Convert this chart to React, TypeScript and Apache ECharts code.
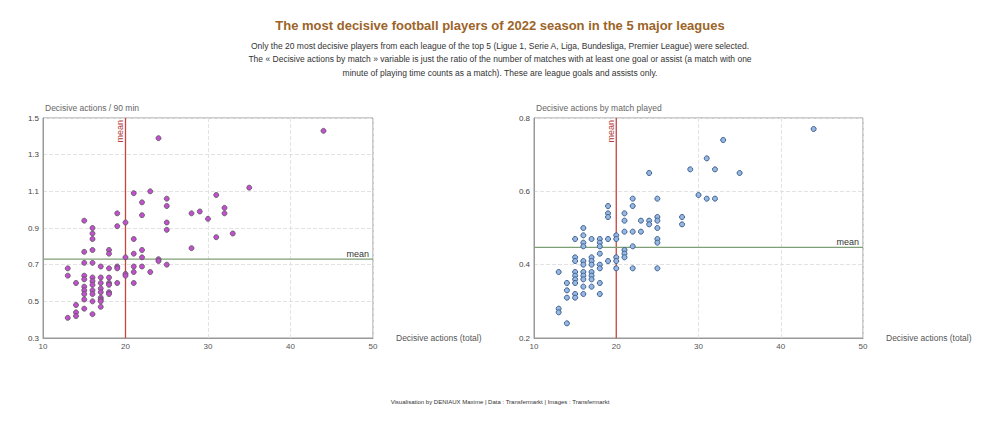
import React, { useEffect, useRef } from "react";
import * as echarts from "echarts";

// Left chart: decisive actions (total) vs decisive actions / 90 min
const leftTotals = [
  44, 24, 35, 21, 23, 31, 22, 25, 25, 19, 28, 29, 32, 32, 30, 22, 15, 20, 19, 25,
  25, 16, 16, 16, 21, 31, 33, 28, 15, 16, 18, 18, 21, 22, 20, 22, 24, 24, 15, 16,
  25, 13, 17, 18, 19, 19, 21, 22, 20, 20, 21, 23, 13, 15, 15, 16, 16, 16, 17, 18,
  14, 17, 18, 18, 19, 21, 15, 15, 15, 16, 16, 17, 17, 18, 18, 15, 16, 17, 17, 17,
  17, 14, 15, 14, 14, 16, 13,
];
const leftPer90 = [
  1.43, 1.39, 1.12, 1.09, 1.1, 1.08, 1.04, 1.06, 1.02, 0.98, 0.98, 0.99, 1.01, 0.98, 0.95, 0.97, 0.94, 0.93, 0.91, 0.93,
  0.89, 0.9, 0.87, 0.84, 0.84, 0.85, 0.87, 0.79, 0.77, 0.78, 0.78, 0.76, 0.76, 0.78, 0.74, 0.74, 0.73, 0.72, 0.71, 0.71,
  0.7, 0.68, 0.69, 0.68, 0.69, 0.68, 0.69, 0.69, 0.65, 0.64, 0.66, 0.66, 0.64, 0.64, 0.62, 0.63, 0.61, 0.59, 0.63, 0.63,
  0.6, 0.6, 0.6, 0.59, 0.6, 0.6, 0.58, 0.56, 0.54, 0.56, 0.54, 0.57, 0.55, 0.55, 0.54, 0.51, 0.5, 0.52, 0.51, 0.5,
  0.47, 0.48, 0.46, 0.44, 0.42, 0.43, 0.41,
];

// Right chart: decisive actions (total) vs decisive actions by match played
const rightTotals = [
  44, 33, 31, 24, 29, 32, 35, 30, 31, 32, 22, 25, 22, 19, 19, 19, 21, 21, 23, 24,
  24, 25, 25, 25, 28, 28, 16, 16, 21, 22, 23, 20, 20, 15, 17, 18, 18, 18, 19, 16,
  16, 25, 25, 22, 21, 21, 21, 18, 15, 15, 16, 16, 17, 17, 17, 18, 18, 19, 20, 20,
  20, 22, 25, 13, 15, 15, 15, 15, 16, 16, 16, 17, 17, 17, 14, 18, 16, 17, 14, 15,
  15, 16, 18, 14, 13, 13, 14,
];
const rightPerMatch = [
  0.77, 0.74, 0.69, 0.65, 0.66, 0.66, 0.65, 0.59, 0.58, 0.58, 0.58, 0.58, 0.56, 0.56, 0.54, 0.53, 0.54, 0.52, 0.52, 0.52,
  0.51, 0.53, 0.52, 0.5, 0.53, 0.51, 0.5, 0.48, 0.49, 0.49, 0.49, 0.48, 0.47, 0.47, 0.47, 0.47, 0.46, 0.45, 0.47, 0.46,
  0.45, 0.47, 0.46, 0.45, 0.44, 0.43, 0.42, 0.43, 0.42, 0.41, 0.41, 0.4, 0.42, 0.41, 0.4, 0.4, 0.39, 0.41, 0.42, 0.41,
  0.39, 0.39, 0.39, 0.38, 0.38, 0.37, 0.36, 0.35, 0.38, 0.37, 0.36, 0.38, 0.37, 0.36, 0.35, 0.35, 0.34, 0.34, 0.33, 0.32,
  0.31, 0.32, 0.32, 0.31, 0.28, 0.27, 0.24,
];

const meanTotal = 20;
const meanPer90 = 0.73;
const meanPerMatch = 0.447;

const xRange = [10, 50];
const leftYRange = [0.3, 1.5];
const rightYRange = [0.2, 0.8];

const titleText = "The most decisive football players of 2022 season in the 5 major leagues";
const subtitleLines = [
  "Only the 20 most decisive players from each league of the top 5 (Ligue 1, Serie A, Liga, Bundesliga, Premier League) were selected.",
  "The « Decisive actions by match » variable is just the ratio of the number of matches with at least one goal or assist (a match with one",
  "minute of playing time counts as a match). These are league goals and assists only.",
];
const footerText = "Visualisation by DENIAUX Maxime | Data : Transfermarkt | Images : Transfermarkt";

const FONT = "Liberation Sans, Arial, sans-serif";

function meanLineSeries(idx: number, meanY: number, yRange: number[]) {
  return {
    type: "custom",
    xAxisIndex: idx,
    yAxisIndex: idx,
    clip: false,
    silent: true,
    z: 2,
    data: [[meanTotal, meanY]],
    renderItem: (_params: any, api: any) => {
      const mx = api.value(0);
      const my = api.value(1);
      const top = api.coord([mx, yRange[1]]);
      const bottom = api.coord([mx, yRange[0]]);
      const left = api.coord([xRange[0], my]);
      const right = api.coord([xRange[1], my]);
      return {
        type: "group",
        children: [
          {
            type: "line",
            shape: { x1: top[0], y1: top[1], x2: bottom[0], y2: bottom[1] },
            style: { stroke: "#c8453f", lineWidth: 1.3 },
          },
          {
            type: "line",
            shape: { x1: left[0], y1: left[1], x2: right[0], y2: right[1] },
            style: { stroke: "#7e9f76", lineWidth: 1.3 },
          },
          {
            type: "text",
            x: top[0] - 1,
            y: top[1] + 2,
            rotation: Math.PI / 2,
            style: {
              text: "mean",
              fill: "#b03a3a",
              font: `9px ${FONT}`,
              align: "right",
              verticalAlign: "bottom",
            },
          },
          {
            type: "text",
            x: right[0] - 4,
            y: right[1] - 1,
            style: {
              text: "mean",
              fill: "#333",
              font: `9px ${FONT}`,
              align: "right",
              verticalAlign: "bottom",
            },
          },
        ],
      };
    },
  };
}

export default function App() {
  const ref = useRef<HTMLDivElement>(null);

  useEffect(() => {
    document.body.style.margin = "0";
    if (!ref.current) return;
    const chart = echarts.init(ref.current, null, { renderer: "svg" });

    const axisLine = () => ({ show: true, lineStyle: { color: "#999", width: 1 } });
    const splitDash = () => ({ show: true, lineStyle: { color: "#e2e2e2", type: "dashed", width: 1 } });
    const xAxisBase = (gridIndex: number) => ({
      type: "value",
      gridIndex,
      min: xRange[0],
      max: xRange[1],
      interval: 10,
      name: "Decisive actions (total)",
      nameLocation: "end",
      nameGap: 23,
      nameTextStyle: { color: "#555", fontSize: 8.5, fontFamily: FONT, verticalAlign: "middle", padding: [0, 0, 4, 0] },
      axisLine: axisLine(),
      axisTick: { show: false },
      axisLabel: { color: "#555", fontSize: 8, fontFamily: FONT, margin: 4 },
      splitLine: splitDash(),
    });

    const option: any = {
      animation: false,
      title: [
        {
          text: titleText,
          left: "center",
          top: 14,
          textStyle: { color: "#9c6428", fontSize: 13, fontWeight: "bold", fontFamily: FONT },
          subtext: subtitleLines.join("\n"),
          itemGap: 7,
          subtextStyle: { color: "#333", fontSize: 8.5, fontFamily: FONT, lineHeight: 13.5, align: "center" },
        },
        {
          text: footerText,
          left: "center",
          top: 394,
          textStyle: { color: "#333", fontSize: 6, fontWeight: "normal", fontFamily: FONT },
        },
      ],
      grid: [
        { left: 43, top: 118, width: 330, height: 220, show: true, borderColor: "#999", borderWidth: 1 },
        { left: 534, top: 118, width: 329, height: 220, show: true, borderColor: "#999", borderWidth: 1 },
      ],
      xAxis: [xAxisBase(0), xAxisBase(1)],
      yAxis: [
        {
          type: "value",
          gridIndex: 0,
          min: leftYRange[0],
          max: leftYRange[1],
          interval: 0.1,
          name: "Decisive actions / 90 min",
          nameLocation: "end",
          nameGap: 6,
          nameTextStyle: { color: "#666", fontSize: 8.5, fontFamily: FONT, align: "left", padding: [0, 0, 0, 2] },
          axisLine: axisLine(),
          axisTick: { show: false },
          axisLabel: {
            color: "#444",
            fontSize: 8,
            fontFamily: FONT,
            margin: 4,
            formatter: (v: number) => (Math.round(v * 10) % 2 === 1 ? v.toFixed(1) : ""),
          },
          splitLine: {
            show: true,
            lineStyle: { color: ["#e2e2e2", "rgba(0,0,0,0)"], type: "dashed", width: 1 },
          },
        },
        {
          type: "value",
          gridIndex: 1,
          min: rightYRange[0],
          max: rightYRange[1],
          interval: 0.2,
          name: "Decisive actions by match played",
          nameLocation: "end",
          nameGap: 6,
          nameTextStyle: { color: "#666", fontSize: 8.5, fontFamily: FONT, align: "left", padding: [0, 0, 0, 2] },
          axisLine: axisLine(),
          axisTick: { show: false },
          axisLabel: { color: "#444", fontSize: 8, fontFamily: FONT, margin: 4, formatter: (v: number) => v.toFixed(1) },
          splitLine: splitDash(),
        },
      ],
      series: [
        meanLineSeries(0, meanPer90, leftYRange),
        meanLineSeries(1, meanPerMatch, rightYRange),
        {
          type: "scatter",
          xAxisIndex: 0,
          yAxisIndex: 0,
          symbolSize: 5,
          itemStyle: { color: "#c34fd0", borderColor: "#555", borderWidth: 0.8, opacity: 1 },
          data: leftTotals.map((x, i) => [x, leftPer90[i]]),
          z: 3,
        },
        {
          type: "scatter",
          xAxisIndex: 1,
          yAxisIndex: 1,
          symbolSize: 5,
          itemStyle: { color: "#96b8e2", borderColor: "#3d5f8f", borderWidth: 1, opacity: 1 },
          data: rightTotals.map((x, i) => [x, rightPerMatch[i]]),
          z: 3,
        },
      ],
    };

    chart.setOption(option);
    return () => chart.dispose();
  }, []);

  return <div ref={ref} style={{ width: 1000, height: 428 }} />;
}
